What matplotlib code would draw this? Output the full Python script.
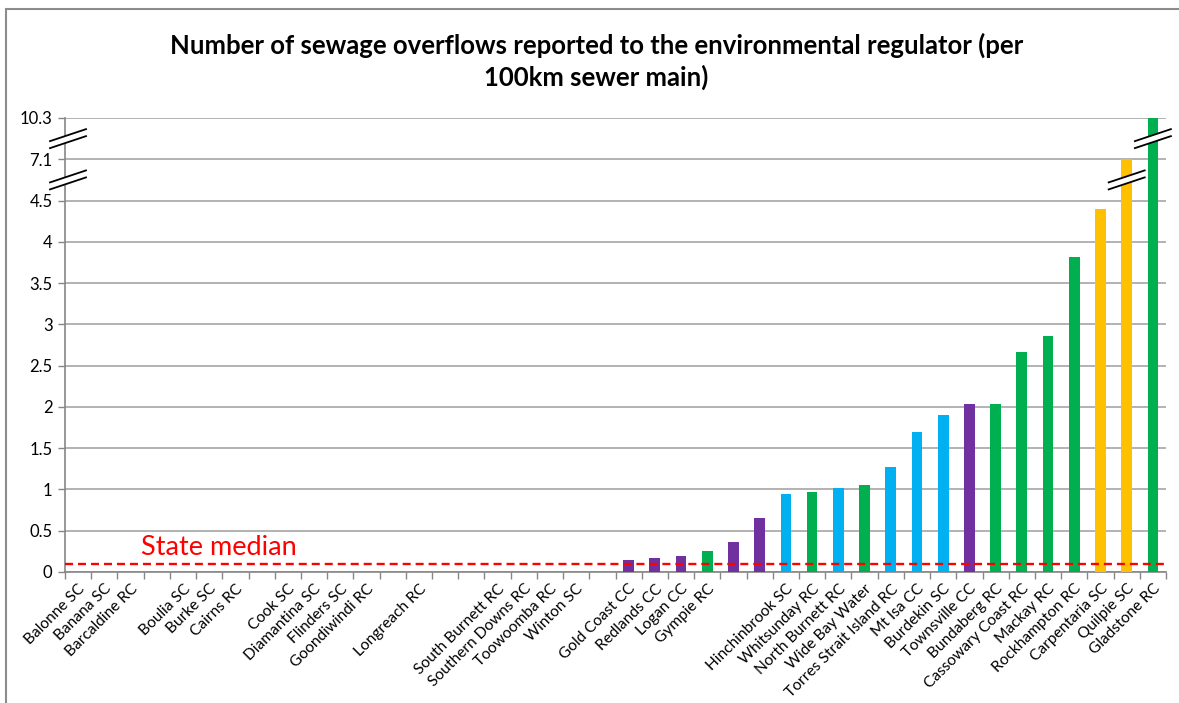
import numpy as np
import matplotlib
matplotlib.use("Agg")
import matplotlib.pyplot as plt
import matplotlib.transforms as mtransforms
from matplotlib.patches import Polygon, Rectangle

plt.rcParams['font.family'] = ['Lato', 'DejaVu Sans']

categories = [
    "Balonne SC", "Banana SC", "Barcaldine RC", "", "Boulia SC", "Burke SC", "Cairns RC", "",
    "Cook SC", "Diamantina SC", "Flinders SC", "Goondiwindi RC", "", "Longreach RC", "", "",
    "South Burnett RC", "Southern Downs RC", "Toowoomba RC", "Winton SC", "",
    "Gold Coast CC", "Redlands CC", "Logan CC", "Gympie RC", "", "",
    "Hinchinbrook SC", "Whitsunday RC", "North Burnett RC", "Wide Bay Water",
    "Torres Strait Island RC", "Mt Isa CC", "Burdekin SC", "Townsville CC", "Bundaberg RC",
    "Cassowary Coast RC", "Mackay RC", "Rockhampton RC", "Carpentaria SC", "Quilpie SC",
    "Gladstone RC",
]
values = [
    0, 0, 0, 0, 0, 0, 0, 0,
    0, 0, 0, 0, 0, 0, 0, 0,
    0, 0, 0, 0, 0,
    0.15, 0.17, 0.19, 0.25, 0.36, 0.66,
    0.95, 0.97, 1.02, 1.06,
    1.27, 1.69, 1.90, 2.03, 2.04,
    2.67, 2.86, 3.82, 4.40, 7.1,
    10.3,
]
groups = (["none"] * 21
          + ["purple", "purple", "purple", "green", "purple", "purple",
             "blue", "green", "blue", "green",
             "blue", "blue", "blue", "purple", "green",
             "green", "green", "green", "yellow", "yellow",
             "green"])
palette = {"none": "none", "purple": "#7030A0", "green": "#00B050",
           "blue": "#00B0F0", "yellow": "#FFC000"}

state_median = 0.1
y_ticks = [0, 0.5, 1, 1.5, 2, 2.5, 3, 3.5, 4, 4.5, 7.1, 10.3]
y_ticklabels = ["0", "0.5", "1", "1.5", "2", "2.5", "3", "3.5", "4", "4.5", "7.1", "10.3"]

# broken axis: 4.5 -> 7.1 and 7.1 -> 10.3 each squeezed into half a step
brk_in = [0, 4.5, 7.1, 10.3]
brk_out = [0, 4.5, 5.0, 5.5]


def fwd(v):
    return np.interp(v, brk_in, brk_out)


def inv(v):
    return np.interp(v, brk_out, brk_in)


fig = plt.figure(figsize=(11.79, 7.03), dpi=100)
ax = fig.add_axes([65 / 1179, 1 - 572 / 703, (1166 - 65) / 1179, (572 - 118) / 703])
ax.set_yscale('function', functions=(fwd, inv))

x = np.arange(len(categories))
ax.bar(x, values, width=0.41, color=[palette[g] for g in groups], zorder=3)

ax.set_xlim(-0.5, len(categories) - 0.5)
ax.set_ylim(0, 10.3)
ax.set_yticks(y_ticks)
ax.set_yticklabels(y_ticklabels, fontsize=12)
ax.set_xticks(x)
ax.set_xticklabels(categories, rotation=45, ha='right', rotation_mode='anchor', fontsize=11.2)
ax.set_xticks(np.arange(len(categories) + 1) - 0.5, minor=True)
ax.tick_params(axis='x', which='major', length=0, pad=7)
ax.tick_params(axis='x', which='minor', length=5, color='#868686', width=1)
ax.tick_params(axis='y', length=5, color='#868686', width=1, pad=4)

ax.grid(axis='y', color='#A6A6A6', linewidth=1.2, zorder=0)
for s in ['top', 'right']:
    ax.spines[s].set_visible(False)
for s in ['left', 'bottom']:
    ax.spines[s].set_color('#868686')
    ax.spines[s].set_linewidth(1.2)

ax.axhline(state_median, color='#FF0000', linewidth=1.7, dashes=(3.4, 2.1), zorder=4)
ax.text(2.4, 0.2, "State median", color='#FF0000', fontsize=19.5, va='baseline', ha='left')

fig.text(0.506, 1 - 45 / 703, "Number of sewage overflows reported to the environmental regulator (per",
         ha='center', va='center', fontsize=18.5, fontweight='bold')
fig.text(0.506, 1 - 77 / 703, "100km sewer main)",
         ha='center', va='center', fontsize=18.5, fontweight='bold')


def slash(xa, ya, base, dx=0.0):
    tr = fig.dpi_scale_trans + mtransforms.ScaledTranslation(xa, ya, base)
    up = [(-18, -2.5), (18, 9.5)]
    lo = [(-18, -9.5), (18, 2.5)]
    pts = [(px / 100 + dx, py / 100) for px, py in up + lo[::-1]]
    ax.add_patch(Polygon(pts, closed=True, facecolor='white', edgecolor='none',
                         transform=tr, clip_on=False, zorder=5))
    for seg in (up, lo):
        ax.plot([p[0] / 100 + dx for p in seg], [p[1] / 100 for p in seg], color='black',
                linewidth=1.3, transform=tr, clip_on=False, zorder=6)


brk_lo = (4.5 + 7.1) / 2
brk_hi = (7.1 + 10.3) / 2
slash(0, brk_lo, ax.get_yaxis_transform(), dx=0.03)
slash(0, brk_hi, ax.get_yaxis_transform(), dx=0.03)
slash(x[categories.index("Quilpie SC")], brk_lo, ax.transData)
slash(x[categories.index("Gladstone RC")], brk_hi, ax.transData)

fig.patches.append(Rectangle((6, -20), 1300, 703 - 9 + 20, transform=None, fill=False,
                             edgecolor='#8C8C8C', linewidth=1.5, figure=fig))

fig.savefig("out.png", dpi=100)
